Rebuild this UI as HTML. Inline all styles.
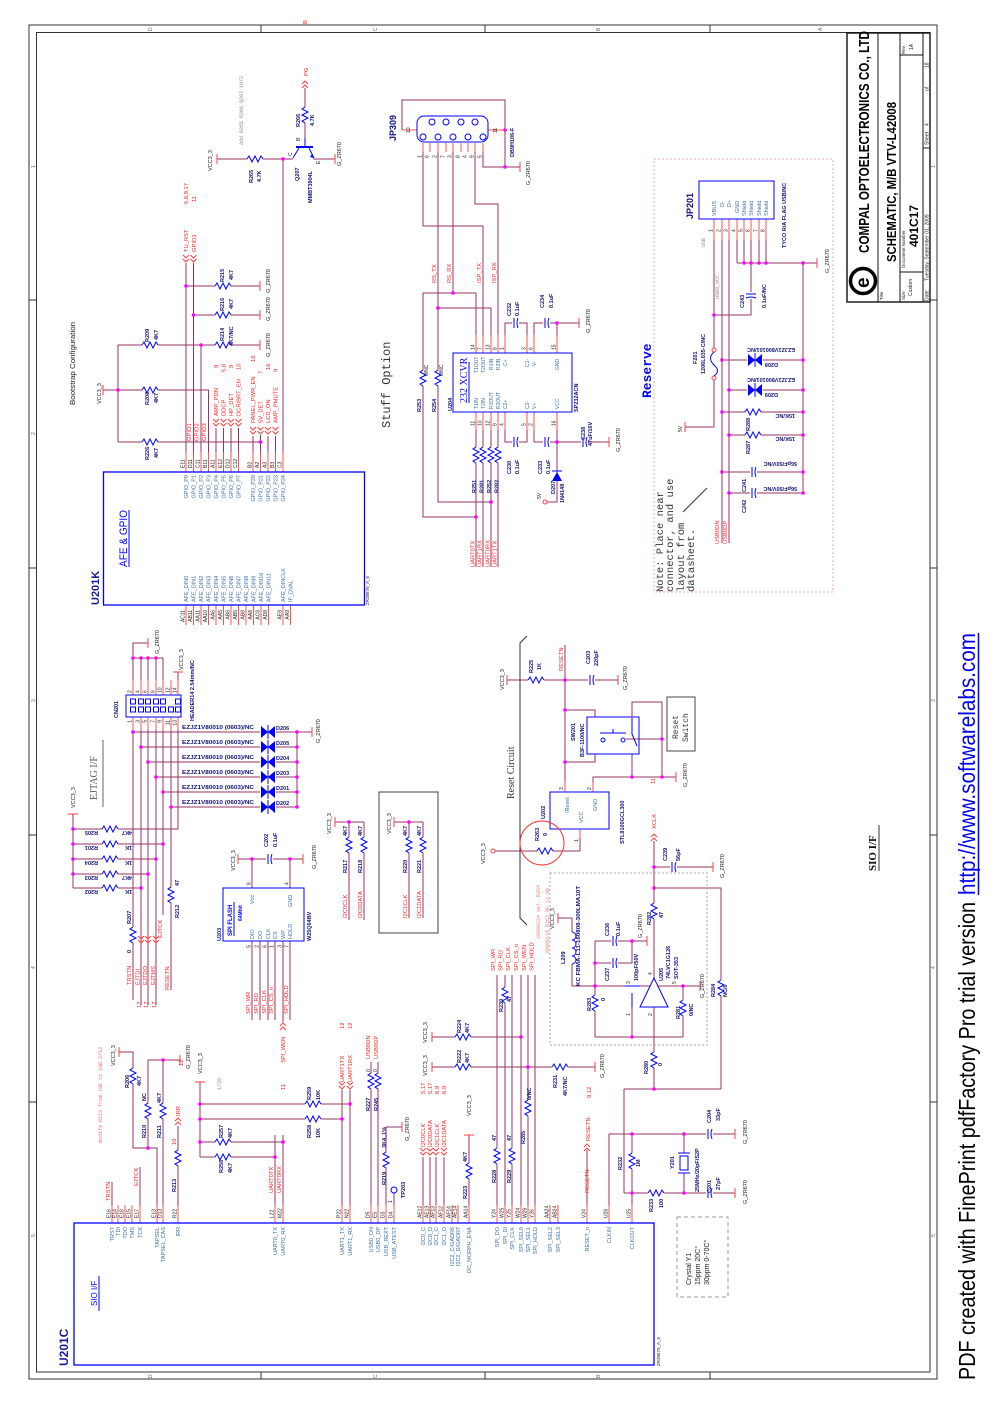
<!DOCTYPE html>
<html><head><meta charset="utf-8">
<style>
html,body{margin:0;padding:0;background:#fff;}
svg{display:block}
.w{stroke:#993366;fill:none;stroke-width:1}
.p{stroke:#ff5050;fill:none;stroke-width:1}
.c{stroke:#0000ff;fill:none;stroke-width:1}
.k{stroke:#333;fill:none;stroke-width:1}
text{font-family:"Liberation Sans",Arial,sans-serif;font-size:5.5px;fill:#222}
.t{font-size:5px;fill:#222}
.n{fill:#10107a;font-weight:bold;font-size:5.5px}
.r{fill:#ff2020;font-size:5.8px}
.i{fill:#3d6fa8;font-size:5.5px}
.i5{fill:#3d6fa8;font-size:5px}
.g{fill:#888;font-family:"Liberation Mono",monospace;font-size:5px}
.m{font-family:"Liberation Mono",monospace}
.note{font-family:"Liberation Mono",monospace;font-size:10.5px;fill:#333}
.e{text-anchor:end}
</style></head><body>
<svg width="992" height="1404" viewBox="0 0 992 1404" xmlns="http://www.w3.org/2000/svg">
<defs>
<g id="rh"><line x1="0" y1="0" x2="16" y2="0" stroke="#fff" stroke-width="3"/><path d="M0 0l2-3l3 6l3-6l3 6l3-6l2 3" stroke="#0000ff" fill="none"/></g>
<g id="rv"><line x1="0" y1="0" x2="0" y2="16" stroke="#fff" stroke-width="3"/><path d="M0 0l-3 2l6 3l-6 3l6 3l-6 3l3 2" stroke="#0000ff" fill="none"/></g>
<g id="ch"><line x1="-2" y1="0" x2="5" y2="0" stroke="#fff" stroke-width="3"/><line x1="0" y1="-5" x2="0" y2="5" stroke="#0000ff"/><path d="M4-5q-2 5 0 10" stroke="#0000ff" fill="none"/></g>
<g id="cv"><line x1="0" y1="-2" x2="0" y2="5" stroke="#fff" stroke-width="3"/><line x1="-5" y1="0" x2="5" y2="0" stroke="#0000ff"/><path d="M-5 4q5-2 10 0" stroke="#0000ff" fill="none"/></g>
<path id="tv" d="M0-5v10" stroke="#ff4040"/>
<path id="th" d="M-5 0h10" stroke="#ff4040"/>
<circle id="dt" r="1.8" fill="#ff00ff"/>
<path id="ad" d="M-3-4l3 3l3-3M-3 0l3 3l3-3" stroke="#ff4040" fill="none"/>
<path id="au" d="M-3 4l3-3l3 3M-3 8l3-3l3 3" stroke="#ff4040" fill="none"/>
<g id="zd"><line x1="-8" y1="0" x2="8" y2="0" stroke="#fff" stroke-width="3"/><path d="M-7-6v12l7-6zM7-6v12l-7-6z" fill="#0000ff"/><path d="M0-7v14" stroke="#0000ff"/></g>
</defs>

<!-- frame -->
<rect x="29" y="25" width="908" height="1354" class="k" stroke-width="1.3"/>
<rect x="36.5" y="32.5" width="893.5" height="1339.5" class="k"/>
<path class="k" d="M261 25V32.5M485 25V32.5M710 25V32.5M261 1372V1379M485 1372V1379M710 1372V1379M29 300H36.5M29 568H36.5M29 835H36.5M29 1102H36.5M930 300H937M930 568H937M930 835H937M930 1102H937"/>

<!-- title block -->
<rect x="847" y="33" width="83" height="269" fill="none" stroke="#111" stroke-width="1.4"/>
<path d="M878 33V302M900 33V302M923 33V302M900 55H923M900 272H923M923 148H930" stroke="#111" stroke-width="1"/>
<circle cx="863" cy="281" r="12.5" fill="none" stroke="#000" stroke-width="3.5"/>

<!-- watermark underline & SIO underline -->
<line x1="978.5" y1="633" x2="978.5" y2="895" stroke="#0000ee" stroke-width="1.5"/>
<line x1="879" y1="825" x2="879" y2="871" stroke="#333" stroke-width="1"/>

<!-- ============ WIRES ============ -->
<path class="w" d="M305 88V146M217 159H293M313 159H335M283 159V452
M186 263V452M193.5 263V452M201 345V452M208.5 390V452M186 286H260M193.5 315H260M118 345H260M103 390H208.5M118 442H260.5M118 345V442M260.5 435V452
M216 428V452M223.5 428V452M231 428V452M238.5 428V452M253 436V452M268 436V452M275.5 436V452
M402 130V100H505V167M483 150V167H520M423 150V226H483V335M438 150V502H491M438 308H491V335M453 150V293M423 293H476V335M423 293V517H476M475 150V204H498V335
M505 335V323H527V335M534 335V323H579M557 323V335M505 430V442H527V430M534 430V442H609M557 430V502H547M476 430V567M483 430V567M491 430V567M498 430V567
M737 240V263M744 240V263M751 240V263M759 240V263M766 240V263M737 263H817M803 263V493M751 263V315H714M714 240V348M714 380V427H685M722 240V543M729 240V543
M722 360H803M729 390H803M722 412H803M729 435H803M722 472H803M729 493H803
M133 680V643H148M133 658H163M141 658V680M148 658V680M156 658V680M163 658V680M178 672V680
M133 730V1000M141 730V1005M148 730V1005M156 730V1005M163 730V915M171 730V990M178 730V829H73
M133 732H297M141 747H297M148 762H297M156 777H297M163 792H297M171 807H297M297 732V807M297 732H312
M73 814V888M73 844H163M73 859H156M73 874H148M73 888H141
M238 859H303M252 859V888M290 859V888
M335 822H364M349 822V920M364 822V920M394 822H423M409 822V918M423 822V918
M507 680H618M565 645V782M565 710H595V717M565 762H595V754M632 717V702H662V777M593 782V777H676M632 754V777M626 739H662
M580 838V851H495M654 841V978M654 1007V1089M654 867H713M654 888H721V1089
M558 918H572V986H595M595 941V1037M595 941H647M595 963H632V941M595 986H700M632 1007V1037M595 1037H683M683 986V1037
M497 975V1205M505 975V1205M512 975V1205M521 975V1205M528 975V1205M535 975V1205
M432 1037H521M432 1067H595M469 1135V1205M423 1157V1205M430 1157V1205M436 1157V1205M444 1157V1205
M371 1062V1205M378 1062V1205M386 1127V1205M386 1127H402M394 1193V1205
M342 1090V1205M350 1090V1205M200 1082V1157M200 1104H350M200 1119H342M200 1142H283M200 1157H275M275 1135V1205M283 1135V1205
M119 1052H133V1148H157V1205M148 1060V1148M163 1060V1205M148 1060H180M178 1126V1205M112 1182V1205M140 1167V1205
M587 1150V1205M624 1089H721M624 1089V1193M609 1134H735M609 1134V1205M624 1193H735M632 1193V1205M632 1134V1193M684 1134V1153M684 1173V1193
M252 941V1020M260 941V1020M268 941V1020M275 941V1020M283 941V1022M290 941V1020"/>

<!-- transistor -->
<path d="M296 147H313" stroke="#0000ff" stroke-width="2"/>
<path class="c" d="M299 148L293 158M309 148L314 158M305 146V138"/>
<path d="M314 158l-4-1l2-3z" fill="#0000ff"/>

<!-- pin stubs -->
<path class="p" d="M186 452V472M193.5 452V472M201 452V472M208.5 452V472M216 452V472M223.5 452V472M231 452V472M238.5 452V472M253 452V472M260.5 452V472M268 452V472M275.5 452V472M283 452V472
M186 605V625M193.5 605V625M201 605V625M208.5 605V625M216 605V625M223.5 605V625M231 605V625M238.5 605V625M246 605V625M253.5 605V625M261 605V625M268.5 605V625M283 605V625M290.5 605V625
M423 143V152M430 143V152M438 143V152M446 143V152M453 143V152M461 143V152M468 143V152M475 143V152M483 143V152M402 130H417M488 130H505
M476 335V353M483 335V353M491 335V353M498 335V353M505 335V353M527 335V353M534 335V353M557 335V353M476 412V430M483 412V430M491 412V430M498 412V430M505 412V430M527 412V430M534 412V430M557 412V430
M714 219V240M722 219V240M729 219V240M737 219V240M744 219V240M751 219V240M759 219V240M766 219V240
M133 680V695M141 680V695M148 680V695M156 680V695M163 680V695M171 680V695M178 680V695M133 717V730M141 717V730M148 717V730M156 717V730M163 717V730M171 717V730M178 717V730
M565 782V792M593 782V792M580 829V838
M112 1205V1223M118 1205V1223M125 1205V1223M132 1205V1223M140 1205V1223M157 1205V1223M163 1205V1223M178 1205V1223M275 1205V1223M283 1205V1223M342 1205V1223M350 1205V1223M371 1205V1223M378 1205V1223M386 1205V1223M394 1205V1223M423 1205V1223M430 1205V1223M436 1205V1223M444 1205V1223M452 1205V1223M458 1205V1223M469 1205V1223M497 1205V1223M505 1205V1223M512 1205V1223M521 1205V1223M528 1205V1223M535 1205V1223M550 1205V1223M558 1205V1223M587 1205V1223M609 1205V1223M632 1205V1223"/>

<!-- T symbols -->
<g>
<use href="#tv" x="217" y="159"/><use href="#tv" x="335" y="159"/><use href="#tv" x="260" y="286"/><use href="#tv" x="260" y="315"/><use href="#tv" x="260" y="345"/><use href="#tv" x="103" y="390"/>
<use href="#tv" x="520" y="167"/><use href="#tv" x="579" y="323"/><use href="#tv" x="609" y="442"/>
<use href="#tv" x="817" y="263"/><use href="#tv" x="685" y="427"/>
<use href="#tv" x="148" y="643"/><use href="#th" x="178" y="672"/><use href="#tv" x="312" y="732"/><use href="#th" x="73" y="814"/>
<use href="#tv" x="238" y="859"/><use href="#tv" x="303" y="859"/><use href="#tv" x="335" y="822"/><use href="#tv" x="394" y="822"/>
<use href="#tv" x="507" y="680"/><use href="#tv" x="618" y="680"/><use href="#tv" x="676" y="777"/><use href="#tv" x="713" y="867"/>
<use href="#tv" x="558" y="918"/><use href="#tv" x="647" y="941"/><use href="#tv" x="700" y="986"/>
<use href="#tv" x="432" y="1037"/><use href="#tv" x="432" y="1067"/><use href="#tv" x="595" y="1067"/><use href="#th" x="469" y="1135"/>
<use href="#tv" x="402" y="1127"/><use href="#th" x="200" y="1082"/><use href="#tv" x="119" y="1052"/><use href="#tv" x="180" y="1060"/>
<use href="#tv" x="735" y="1134"/><use href="#tv" x="735" y="1193"/>
</g>

<!-- arrows -->
<g>
<use href="#au" x="305" y="80"/>
<use href="#ad" x="186" y="259"/><use href="#ad" x="193.5" y="259"/>
<use href="#ad" x="216" y="423"/><use href="#ad" x="223.5" y="423"/><use href="#ad" x="231" y="423"/><use href="#ad" x="238.5" y="423"/>
<use href="#ad" x="253" y="431"/><use href="#ad" x="260.5" y="431"/><use href="#ad" x="268" y="431"/><use href="#ad" x="275.5" y="431"/>
<use href="#ad" x="141" y="940"/><use href="#ad" x="148" y="940"/><use href="#ad" x="156" y="940"/>
<use href="#au" x="283" y="1022"/><use href="#au" x="654" y="833"/>
<use href="#ad" x="342" y="1086"/><use href="#ad" x="350" y="1086"/><use href="#au" x="178" y="1117"/>
<use href="#ad" x="423" y="1152"/><use href="#ad" x="430" y="1152"/><use href="#ad" x="436" y="1152"/><use href="#ad" x="444" y="1152"/>
<use href="#au" x="587" y="1143"/>
</g>

<!-- resistors -->
<g>
<use href="#rv" x="305" y="107"/><use href="#rh" x="247" y="159"/>
<use href="#rh" x="215" y="286"/><use href="#rh" x="215" y="315"/><use href="#rh" x="215" y="345"/><use href="#rh" x="142" y="345"/><use href="#rh" x="142" y="390"/><use href="#rh" x="142" y="442"/>
<use href="#rv" x="423" y="370"/><use href="#rv" x="438" y="370"/>
<use href="#rv" x="476" y="447"/><use href="#rv" x="483" y="447"/><use href="#rv" x="491" y="447"/><use href="#rv" x="498" y="447"/>
<use href="#rh" x="745" y="412"/><use href="#rh" x="745" y="435"/>
<use href="#rh" x="102" y="829"/><use href="#rh" x="102" y="844"/><use href="#rh" x="102" y="859"/><use href="#rh" x="102" y="874"/><use href="#rh" x="102" y="888"/>
<use href="#rv" x="133" y="927"/><use href="#rv" x="171" y="887"/>
<use href="#rv" x="349" y="837"/><use href="#rv" x="364" y="837"/><use href="#rv" x="409" y="837"/><use href="#rv" x="423" y="837"/>
<use href="#rh" x="528" y="680"/><use href="#rh" x="537" y="851"/>
<use href="#rv" x="654" y="903"/><use href="#rv" x="721" y="980"/><use href="#rv" x="595" y="995"/><use href="#rv" x="683" y="1000"/><use href="#rv" x="654" y="1052"/>
<use href="#rv" x="505" y="987"/><use href="#rv" x="497" y="1148"/><use href="#rv" x="512" y="1148"/><use href="#rv" x="528" y="1100"/>
<use href="#rh" x="455" y="1037"/><use href="#rh" x="455" y="1067"/><use href="#rh" x="552" y="1067"/><use href="#rv" x="469" y="1163"/>
<use href="#rv" x="371" y="1073"/><use href="#rv" x="378" y="1073"/><use href="#rv" x="386" y="1152"/>
<use href="#rh" x="305" y="1104"/><use href="#rh" x="305" y="1119"/><use href="#rh" x="215" y="1142"/><use href="#rh" x="215" y="1157"/>
<use href="#rv" x="133" y="1068"/><use href="#rv" x="148" y="1103"/><use href="#rv" x="163" y="1103"/><use href="#rv" x="178" y="1150"/>
<use href="#rv" x="632" y="1153"/><use href="#rh" x="648" y="1193"/>
</g>

<!-- capacitors -->
<g>
<use href="#ch" x="514" y="323"/><use href="#ch" x="545" y="323"/><use href="#ch" x="514" y="442"/><use href="#ch" x="545" y="442"/><use href="#ch" x="583" y="442"/>
<use href="#cv" x="751" y="294"/><use href="#ch" x="752" y="472"/><use href="#ch" x="752" y="493"/>
<use href="#ch" x="268" y="859"/><use href="#ch" x="590" y="680"/><use href="#ch" x="672" y="867"/>
<use href="#ch" x="613" y="941"/><use href="#ch" x="613" y="963"/>
<use href="#ch" x="708" y="1134"/><use href="#ch" x="708" y="1193"/>
</g>

<!-- zener diodes -->
<g>
<use href="#zd" x="755" y="360"/><use href="#zd" x="755" y="390"/>
<use href="#zd" x="268" y="732"/><use href="#zd" x="268" y="747"/><use href="#zd" x="268" y="762"/><use href="#zd" x="268" y="777"/><use href="#zd" x="268" y="792"/><use href="#zd" x="268" y="807"/>
</g>

<!-- boxes / components -->
<rect x="103.5" y="472" width="261" height="133" fill="none" stroke="#0000ff" stroke-width="1.3"/>
<rect x="74" y="1223" width="580" height="142" fill="none" stroke="#0000ff" stroke-width="1.3"/>
<line x1="129" y1="510" x2="129" y2="567" stroke="#0000ff"/>
<line x1="99" y1="1276" x2="99" y2="1311" stroke="#0000ff"/>
<rect x="417" y="116" width="71" height="26" rx="7" class="c"/>
<g class="c"><circle cx="432" cy="122" r="3"/><circle cx="446" cy="122" r="3"/><circle cx="461" cy="122" r="3"/><circle cx="475" cy="122" r="3"/><circle cx="423" cy="137" r="3"/><circle cx="438" cy="137" r="3"/><circle cx="453" cy="137" r="3"/><circle cx="468" cy="137" r="3"/><circle cx="483" cy="137" r="3"/></g>
<rect x="453" y="353" width="119" height="59" class="c" stroke-width="1.2"/>
<line x1="469" y1="362" x2="469" y2="403" stroke="#0000ff"/>
<path d="M552 481H562L557 472Z" fill="#0000ff"/><path class="c" d="M552 471H562"/>
<circle cx="545" cy="502" r="2" fill="none" stroke="#ff4040"/>
<rect x="654" y="159" width="179" height="433" fill="none" stroke="#f4a8a8" stroke-dasharray="2 2"/>
<rect x="699" y="181" width="75" height="38" class="c" stroke-width="1.2"/>
<circle cx="714" cy="350" r="2" fill="none" stroke="#ff4040"/><circle cx="714" cy="378" r="2" fill="none" stroke="#ff4040"/>
<path class="c" d="M714 352q-7 6 0 13q7 6 0 11"/>
<line x1="683" y1="512" x2="707" y2="488" stroke="#333"/>
<rect x="126" y="695" width="55" height="22" class="c" stroke-width="1.2"/>
<g class="c"><rect x="130.5" y="699" width="5" height="5"/><rect x="138.5" y="699" width="5" height="5"/><rect x="145.5" y="699" width="5" height="5"/><rect x="153.5" y="699" width="5" height="5"/><rect x="160.5" y="699" width="5" height="5"/><rect x="175.5" y="699" width="5" height="5"/>
<rect x="130.5" y="707" width="5" height="5"/><rect x="138.5" y="707" width="5" height="5"/><rect x="145.5" y="707" width="5" height="5"/><rect x="153.5" y="707" width="5" height="5"/><rect x="160.5" y="707" width="5" height="5"/><rect x="168.5" y="707" width="5" height="5"/><rect x="175.5" y="707" width="5" height="5"/></g>
<line x1="103" y1="740" x2="103" y2="807" stroke="#666"/>
<rect x="223" y="888" width="81" height="53" class="c" stroke-width="1.2"/>
<line x1="234" y1="902" x2="234" y2="936" stroke="#0000ff"/>
<rect x="379" y="792" width="59" height="141" fill="none" stroke="#444"/>
<path d="M527 636L520 643V918L527 925" fill="none" stroke="#333"/>
<rect x="587" y="717" width="52" height="37" class="c" stroke-width="1.2"/>
<g class="c"><circle cx="603" cy="740" r="2"/><circle cx="623" cy="740" r="2"/><path d="M600 733H626M613 729V733M632 718V734L637 746"/></g>
<rect x="667" y="697" width="28" height="54" fill="none" stroke="#444"/>
<rect x="550" y="792" width="59" height="37" class="c" stroke-width="1.2"/>
<circle cx="493" cy="851" r="2" fill="none" stroke="#ff4040"/>
<circle cx="542" cy="843" r="22" fill="none" stroke="#ff3030"/>
<rect x="550" y="873" width="157" height="172" fill="none" stroke="#aaa" stroke-dasharray="2 2"/>
<line x1="572" y1="932" x2="572" y2="964" stroke="#fff" stroke-width="3"/>
<path class="c" d="M572 932a4 4 0 0 1 0 8a4 4 0 0 1 0 8a4 4 0 0 1 0 8a4 4 0 0 1 0 8"/>
<path d="M654 978L640 1007H668Z" fill="#fff" stroke="#0000ff"/>
<path class="c" d="M625 986H640M632 993V1007"/>
<circle cx="394" cy="1190" r="3" class="c"/>
<path class="c" d="M678 1153H690M678 1173H690"/><rect x="680" y="1156" width="8" height="14" class="c"/>
<rect x="677" y="1217" width="51" height="80" fill="none" stroke="#999" stroke-dasharray="4 3"/>

<!-- dots -->
<g>
<use href="#dt" x="283" y="159"/><use href="#dt" x="186" y="286"/><use href="#dt" x="193.5" y="315"/><use href="#dt" x="201" y="345"/><use href="#dt" x="118" y="390"/><use href="#dt" x="260.5" y="442"/>
<use href="#dt" x="505" y="130"/><use href="#dt" x="505" y="167"/><use href="#dt" x="438" y="308"/><use href="#dt" x="453" y="293"/><use href="#dt" x="476" y="517"/><use href="#dt" x="491" y="502"/><use href="#dt" x="557" y="323"/><use href="#dt" x="557" y="442"/>
<use href="#dt" x="744" y="263"/><use href="#dt" x="751" y="263"/><use href="#dt" x="759" y="263"/><use href="#dt" x="766" y="263"/><use href="#dt" x="803" y="263"/><use href="#dt" x="714" y="315"/>
<use href="#dt" x="722" y="360"/><use href="#dt" x="803" y="360"/><use href="#dt" x="729" y="390"/><use href="#dt" x="803" y="390"/><use href="#dt" x="722" y="412"/><use href="#dt" x="803" y="412"/><use href="#dt" x="729" y="435"/><use href="#dt" x="803" y="435"/><use href="#dt" x="722" y="472"/><use href="#dt" x="803" y="472"/><use href="#dt" x="729" y="493"/><use href="#dt" x="803" y="493"/>
<use href="#dt" x="133" y="658"/><use href="#dt" x="141" y="658"/><use href="#dt" x="148" y="658"/><use href="#dt" x="156" y="658"/>
<use href="#dt" x="133" y="732"/><use href="#dt" x="297" y="732"/><use href="#dt" x="141" y="747"/><use href="#dt" x="297" y="747"/><use href="#dt" x="148" y="762"/><use href="#dt" x="297" y="762"/><use href="#dt" x="156" y="777"/><use href="#dt" x="297" y="777"/><use href="#dt" x="163" y="792"/><use href="#dt" x="297" y="792"/><use href="#dt" x="171" y="807"/><use href="#dt" x="297" y="807"/>
<use href="#dt" x="73" y="829"/><use href="#dt" x="73" y="844"/><use href="#dt" x="163" y="844"/><use href="#dt" x="73" y="859"/><use href="#dt" x="156" y="859"/><use href="#dt" x="73" y="874"/><use href="#dt" x="148" y="874"/><use href="#dt" x="141" y="888"/>
<use href="#dt" x="252" y="859"/><use href="#dt" x="290" y="859"/><use href="#dt" x="349" y="822"/><use href="#dt" x="409" y="822"/>
<use href="#dt" x="565" y="680"/><use href="#dt" x="565" y="710"/><use href="#dt" x="565" y="762"/><use href="#dt" x="662" y="739"/><use href="#dt" x="632" y="777"/><use href="#dt" x="662" y="777"/>
<use href="#dt" x="654" y="867"/><use href="#dt" x="654" y="888"/><use href="#dt" x="595" y="963"/><use href="#dt" x="595" y="986"/><use href="#dt" x="632" y="941"/><use href="#dt" x="683" y="986"/><use href="#dt" x="632" y="1037"/>
<use href="#dt" x="521" y="1037"/><use href="#dt" x="528" y="1067"/>
<use href="#dt" x="200" y="1104"/><use href="#dt" x="200" y="1119"/><use href="#dt" x="200" y="1142"/><use href="#dt" x="350" y="1104"/><use href="#dt" x="342" y="1119"/><use href="#dt" x="283" y="1142"/><use href="#dt" x="275" y="1157"/>
<use href="#dt" x="163" y="1060"/><use href="#dt" x="148" y="1148"/>
<use href="#dt" x="654" y="1089"/><use href="#dt" x="632" y="1134"/><use href="#dt" x="684" y="1134"/><use href="#dt" x="632" y="1193"/><use href="#dt" x="684" y="1193"/>
</g>

<!-- horizontal text -->
<g>
<text x="182" y="729" class="n" textLength="72" lengthAdjust="spacingAndGlyphs">EZJZ1V80010 (0603)/NC</text>
<text x="182" y="744" class="n" textLength="72" lengthAdjust="spacingAndGlyphs">EZJZ1V80010 (0603)/NC</text>
<text x="182" y="759" class="n" textLength="72" lengthAdjust="spacingAndGlyphs">EZJZ1V80010 (0603)/NC</text>
<text x="182" y="774" class="n" textLength="72" lengthAdjust="spacingAndGlyphs">EZJZ1V80010 (0603)/NC</text>
<text x="182" y="789" class="n" textLength="72" lengthAdjust="spacingAndGlyphs">EZJZ1V80010 (0603)/NC</text>
<text x="182" y="804" class="n" textLength="72" lengthAdjust="spacingAndGlyphs">EZJZ1V80010 (0603)/NC</text>
<text x="276" y="730" class="n">D206</text><text x="276" y="745" class="n">D205</text><text x="276" y="760" class="n">D204</text><text x="276" y="775" class="n">D203</text><text x="276" y="790" class="n">D201</text><text x="276" y="805" class="n">D202</text>
</g>
<g>
<text class="n" transform="translate(795 348) rotate(180)">EZJZ1V800101/NC</text>
<text class="n" transform="translate(795 378) rotate(180)">EZJZ1V800101/NC</text>
<text class="n" transform="translate(778 363) rotate(180)">D208</text>
<text class="n" transform="translate(778 393) rotate(180)">D209</text>
<text class="n" transform="translate(795 414) rotate(180)">15K/NC</text>
<text class="n" transform="translate(795 437) rotate(180)">15K/NC</text>
<text class="n" transform="translate(797 462) rotate(180)">56pF/50V/NC</text>
<text class="n" transform="translate(797 487) rotate(180)">56pF/50V/NC</text>
<text class="n" transform="translate(98 831) rotate(180)">R205</text><text class="n" transform="translate(132 831) rotate(180)">4K7</text>
<text class="n" transform="translate(98 846) rotate(180)">R201</text><text class="n" transform="translate(132 846) rotate(180)">1K</text>
<text class="n" transform="translate(98 861) rotate(180)">R204</text><text class="n" transform="translate(132 861) rotate(180)">1K</text>
<text class="n" transform="translate(98 876) rotate(180)">R203</text><text class="n" transform="translate(132 876) rotate(180)">4K7</text>
<text class="n" transform="translate(98 890) rotate(180)">R202</text><text class="n" transform="translate(132 890) rotate(180)">1K</text>
</g>

<!-- ============ ROTATED TEXT ============ -->
<g transform="rotate(-90)">
<!-- zone labels -->
<text x="-31" y="152" style="font-size:5px;fill:#666">D</text><text x="-31" y="377" style="font-size:5px;fill:#666">C</text><text x="-31" y="600" style="font-size:5px;fill:#666">B</text><text x="-31" y="822" style="font-size:5px;fill:#666">A</text>
<text x="-1378" y="152" style="font-size:5px;fill:#666">D</text><text x="-1378" y="377" style="font-size:5px;fill:#666">C</text><text x="-1378" y="600" style="font-size:5px;fill:#666">B</text>
<text x="-168" y="35" style="font-size:5px;fill:#666">1</text><text x="-435" y="35" style="font-size:5px;fill:#666">2</text><text x="-702" y="35" style="font-size:5px;fill:#666">3</text><text x="-969" y="35" style="font-size:5px;fill:#666">4</text><text x="-1237" y="35" style="font-size:5px;fill:#666">5</text>
<text x="-168" y="935" style="font-size:5px;fill:#666">1</text><text x="-702" y="935" style="font-size:5px;fill:#666">3</text><text x="-969" y="935" style="font-size:5px;fill:#666">4</text><text x="-1237" y="935" style="font-size:5px;fill:#666">5</text>
<text x="-24" y="307" class="r">B</text>

<!-- title block -->
<text x="-253" y="869" style="font-size:14.5px;font-weight:bold;fill:#000" textLength="222" lengthAdjust="spacingAndGlyphs">COMPAL OPTOELECTRONICS CO., LTD</text>
<text x="-288" y="869" style="font-size:19px;font-weight:bold;fill:#000">e</text>
<text x="-262" y="896" style="font-size:12.5px;font-weight:bold;fill:#000" textLength="160" lengthAdjust="spacingAndGlyphs">SCHEMATIC, M/B VTV-L42008</text>
<text x="-300" y="883" style="font-size:4.5px">Title</text>
<text x="-300" y="905" style="font-size:4.5px">Size</text>
<text x="-296" y="912" style="font-size:5px">Custom</text>
<text x="-268" y="905" style="font-size:4.5px">Document Number</text>
<text x="-247" y="918" style="font-size:12px;font-weight:bold;fill:#000">401C17</text>
<text x="-54" y="905" style="font-size:4.5px">Rev</text>
<text x="-50" y="913" style="font-size:5px">1A</text>
<text x="-301" y="928.5" style="font-size:5px">Date:</text>
<text x="-281" y="928.5" style="font-size:5px">Tuesday, September 01, 2009</text>
<text x="-145" y="928.5" style="font-size:5px">Sheet</text>
<text x="-126" y="928.5" style="font-size:5px">4</text>
<text x="-91" y="928.5" style="font-size:5px">of</text>
<text x="-68" y="928.5" style="font-size:5px">18</text>

<!-- watermark -->
<text x="-1380" y="975" style="font-size:23px;fill:#000" textLength="478" lengthAdjust="spacingAndGlyphs">PDF created with FinePrint pdfFactory Pro trial version</text>
<text x="-895" y="975" style="font-size:23px;fill:#0000ee" textLength="262" lengthAdjust="spacingAndGlyphs">http://www.softwarelabs.com</text>
<text x="-871" y="876" style="font-family:'Liberation Serif',serif;font-size:11px;font-weight:bold;fill:#111">SIO I/F</text>

<!-- Q207 area -->
<text x="-145" y="243" class="g">Add R265 R266 Q207 10/2</text>
<text x="-76" y="308" class="r">PG</text>
<text x="-127" y="300" class="n">R266</text><text x="-126" y="314" class="n">4.7K</text>
<text x="-141" y="300" class="t">B</text><text x="-156" y="292" class="t">C</text><text x="-164" y="320" class="t">E</text>
<text x="-171" y="212">VCC3_3</text>
<text x="-183" y="253" class="n">R265</text><text x="-182" y="261" class="n">4.7K</text>
<text x="-166" y="341">G_ZR670</text>
<text x="-181" y="299" class="n">Q207</text><text x="-203" y="312" class="n">MMBT3904L</text>

<!-- bootstrap -->
<text x="-204" y="188" class="r">5,6,9,17</text><text x="-202" y="196" class="r">11</text>
<text x="-252" y="188" class="r">TU_RST</text><text x="-252" y="196" class="r">GPIO1</text>
<text x="-282" y="224" class="n">R215</text><text x="-280" y="233" class="n">4K7</text>
<text x="-311" y="224" class="n">R216</text><text x="-309" y="233" class="n">4K7</text>
<text x="-341" y="224" class="n">R214</text><text x="-346" y="233" class="n">4K7/NC</text>
<text x="-342" y="149" class="n">R209</text><text x="-340" y="158" class="n">4K7</text>
<text x="-405" y="149" class="n">R208</text><text x="-403" y="158" class="n">4K7</text>
<text x="-460" y="149" class="n">R226</text><text x="-458" y="158" class="n">4K7</text>
<text x="-293" y="270">G_ZR670</text><text x="-321" y="270">G_ZR670</text><text x="-357" y="270">G_ZR670</text>
<text x="-404" y="101">VCC3_3</text>
<text x="-405" y="75" style="font-size:7px;fill:#222" textLength="83" lengthAdjust="spacingAndGlyphs">Bootstrap Configuration</text>
<text x="-441" y="191" class="r">GPIO1</text><text x="-441" y="198.5" class="r">GPIO2</text><text x="-441" y="206" class="r">GPIO3</text>
<text x="-416" y="218" class="r">AMP_PDN</text><text x="-416" y="225.5" class="r">DDCP</text><text x="-416" y="233" class="r">HP_DET</text><text x="-416" y="240.5" class="r">DCR/BRT_EN</text>
<text x="-368" y="218" class="r">9</text><text x="-372" y="225.5" class="r">5,8</text><text x="-368" y="233" class="r">9</text><text x="-370" y="240.5" class="r">10</text>
<text x="-423" y="255" class="r">PANEL_PWR_EN</text><text x="-423" y="262.5" class="r">5V_DET</text><text x="-423" y="270" class="r">LCD_ON</text><text x="-423" y="277.5" class="r">AMP_PMUTE</text>
<text x="-362" y="255" class="r">16</text><text x="-374" y="262.5" class="r">7</text><text x="-370" y="270" class="r">16</text><text x="-372" y="277.5" class="r">9</text>

<!-- U201K pins -->
<g>
<text class="t" x="-468" y="184.5">E11</text><text class="t" x="-468" y="192">D11</text><text class="t" x="-468" y="199.5">C11</text><text class="t" x="-468" y="207">B11</text><text class="t" x="-468" y="214.5">A11</text><text class="t" x="-468" y="222">E12</text><text class="t" x="-468" y="229.5">D12</text><text class="t" x="-468" y="237">C12</text><text class="t" x="-468" y="251.5">B2</text><text class="t" x="-468" y="259">A2</text><text class="t" x="-468" y="266.5">A3</text><text class="t" x="-468" y="274">B3</text><text class="t" x="-468" y="281.5">C3</text>
</g>
<g class="e">
<text class="i" x="-475" y="188">GPIO_P0</text><text class="i" x="-475" y="195.5">GPIO_P1</text><text class="i" x="-475" y="203">GPIO_P2</text><text class="i" x="-475" y="210.5">GPIO_P3</text><text class="i" x="-475" y="218">GPIO_P4</text><text class="i" x="-475" y="225.5">GPIO_P5</text><text class="i" x="-475" y="233">GPIO_P6</text><text class="i" x="-475" y="240.5">GPIO_P7</text><text class="i" x="-475" y="255">GPIO_P20</text><text class="i" x="-475" y="262.5">GPIO_P21</text><text class="i" x="-475" y="270">GPIO_P22</text><text class="i" x="-475" y="277.5">GPIO_P23</text><text class="i" x="-475" y="285">GPIO_P24</text>
</g>
<g>
<text class="i" x="-602" y="188">AFE_DIN0</text><text class="i" x="-602" y="195.5">AFE_DIN1</text><text class="i" x="-602" y="203">AFE_DIN2</text><text class="i" x="-602" y="210.5">AFE_DIN3</text><text class="i" x="-602" y="218">AFE_DIN4</text><text class="i" x="-602" y="225.5">AFE_DIN5</text><text class="i" x="-602" y="233">AFE_DIN6</text><text class="i" x="-602" y="240.5">AFE_DIN7</text><text class="i" x="-602" y="248">AFE_DIN8</text><text class="i" x="-602" y="255.5">AFE_DIN9</text><text class="i" x="-602" y="263">AFE_DIN10</text><text class="i" x="-602" y="270.5">AFE_DIN11</text><text class="i" x="-602" y="285">AFE_DINCLK</text><text class="i" x="-602" y="292.5">IF_DVAL</text>
</g>
<g class="e">
<text class="t" x="-610" y="184.5">AC11</text><text class="t" x="-610" y="192">AB11</text><text class="t" x="-610" y="199.5">AA11</text><text class="t" x="-610" y="207">AA10</text><text class="t" x="-610" y="214.5">AA6</text><text class="t" x="-610" y="222">AA5</text><text class="t" x="-610" y="229.5">AB6</text><text class="t" x="-610" y="237">AB5</text><text class="t" x="-610" y="244.5">AB8</text><text class="t" x="-610" y="252">AA8</text><text class="t" x="-610" y="259.5">AC8</text><text class="t" x="-610" y="267">AD8</text><text class="t" x="-610" y="281.5">AE8</text><text class="t" x="-610" y="289">AA9</text>
</g>
<text x="-605" y="99" style="font-size:11px;font-weight:bold;fill:#1a1a9a">U201K</text>
<text x="-567" y="127" style="font-size:11px;fill:#0000ff" textLength="57" lengthAdjust="spacingAndGlyphs">AFE &amp; GPIO</text>
<text x="-605" y="369" style="font-size:4.5px">ZR38670_A_6</text>

<!-- Stuff option -->
<text x="-428" y="390" class="m" style="font-size:12px;fill:#333">Stuff Option</text>
<text x="-141" y="396" style="font-size:9px;font-weight:bold;fill:#10107a">JP309</text>
<text x="-157" y="514" class="n">DB9H106-F</text>
<g><text class="t" x="-158" y="421.5">1</text><text class="t" x="-158" y="428.5">6</text><text class="t" x="-158" y="436.5">2</text><text class="t" x="-158" y="444.5">7</text><text class="t" x="-158" y="451.5">3</text><text class="t" x="-158" y="459.5">8</text><text class="t" x="-158" y="466.5">4</text><text class="t" x="-158" y="473.5">9</text><text class="t" x="-158" y="481.5">5</text><text class="t" x="-133" y="410">10</text><text class="t" x="-133" y="497">11</text></g>
<text x="-185" y="530">G_ZR670</text>
<text x="-283" y="436" class="r">RS_TX</text><text x="-283" y="451" class="r">RS_RX</text><text x="-283" y="481" class="r">ISP_TX</text><text x="-283" y="496" class="r">ISP_RX</text>
<text x="-376" y="428" class="t">0/NC</text><text x="-376" y="443" class="t">0/NC</text>
<text x="-412" y="421" class="n">R253</text><text x="-412" y="436" class="n">R254</text>
<text x="-411" y="452" class="n">U204</text>
<text x="-403" y="467" style="font-family:'Liberation Serif',serif;font-size:10px;fill:#0000ff">232 XCVR</text>
<g>
<text class="i5" x="-373" y="478">T1OUT</text><text class="i5" x="-373" y="485">T2OUT</text><text class="i5" x="-370" y="493">R1IN</text><text class="i5" x="-370" y="500">R2IN</text><text class="i5" x="-366" y="507">C+</text><text class="i5" x="-367" y="529">C1-</text><text class="i5" x="-366" y="536">V-</text><text class="i5" x="-370" y="559">GND</text>
<text class="i5" x="-409" y="478">T1IN</text><text class="i5" x="-409" y="485">T2IN</text><text class="i5" x="-409" y="493">R1OUT</text><text class="i5" x="-409" y="500">R2OUT</text><text class="i5" x="-409" y="507">C2+</text><text class="i5" x="-409" y="529">C2-</text><text class="i5" x="-409" y="536">V+</text><text class="i5" x="-409" y="559">VCC</text>
</g>
<g>
<text class="t" x="-350" y="474.5">14</text><text class="t" x="-350" y="481.5">7</text><text class="t" x="-350" y="489.5">13</text><text class="t" x="-350" y="496.5">8</text><text class="t" x="-350" y="503.5">1</text><text class="t" x="-350" y="525.5">3</text><text class="t" x="-350" y="532.5">6</text><text class="t" x="-350" y="555.5">15</text>
<text class="t" x="-426" y="474.5">11</text><text class="t" x="-426" y="481.5">10</text><text class="t" x="-426" y="489.5">12</text><text class="t" x="-426" y="496.5">9</text><text class="t" x="-426" y="503.5">4</text><text class="t" x="-426" y="525.5">5</text><text class="t" x="-426" y="532.5">2</text><text class="t" x="-426" y="555.5">16</text>
</g>
<text x="-316" y="511" class="n">C232</text><text x="-316" y="519" class="n">0.1uF</text>
<text x="-308" y="544" class="n">C234</text><text x="-308" y="553" class="n">0.1uF</text>
<text x="-333" y="590">G_ZR670</text>
<text x="-474" y="511" class="n">C230</text><text x="-474" y="519" class="n">0.1uF</text>
<text x="-474" y="542" class="n">C233</text><text x="-474" y="550" class="n">0.1uF</text>
<text x="-440" y="585" class="n">C238</text><text x="-446" y="592" class="n">47uF/16V</text>
<text x="-452" y="620">G_ZR670</text>
<text x="-499" y="541" class="t">5V</text>
<text x="-494" y="555" class="n">D207</text><text x="-503" y="564" class="n">1N4148</text>
<text x="-493" y="476" class="n">R251</text><text x="-493" y="483.5" class="n">R281</text><text x="-493" y="491" class="n">R252</text><text x="-493" y="498.5" class="n">R282</text>
<text x="-567" y="474.5" class="r">UART0TX</text><text x="-567" y="481.5" class="r">UART1RX</text><text x="-567" y="489.5" class="r">UART0RX</text><text x="-567" y="496.5" class="r">UART1TX</text>
<text x="-412" y="578" class="n">SP232ACN</text>

<!-- Reserve -->
<text x="-398" y="651" class="m" style="font-size:13px;font-weight:bold;fill:#0000ff">Reserve</text>
<text x="-219" y="693" style="font-size:9px;font-weight:bold;fill:#10107a">JP201</text>
<g><text class="i" x="-216" y="716">VBUS</text><text class="i" x="-207" y="724">D-</text><text class="i" x="-207" y="731">D+</text><text class="i" x="-213" y="739">GND</text><text class="i" x="-216" y="746">Shield</text><text class="i" x="-216" y="753">Shield</text><text class="i" x="-216" y="761">Shield</text><text class="i" x="-216" y="768">Shield</text></g>
<g><text class="t" x="-232" y="712.5">1</text><text class="t" x="-232" y="720.5">2</text><text class="t" x="-232" y="727.5">3</text><text class="t" x="-232" y="735.5">4</text><text class="t" x="-232" y="742.5">5</text><text class="t" x="-232" y="749.5">6</text><text class="t" x="-232" y="757.5">7</text><text class="t" x="-232" y="764.5">8</text></g>
<text x="-248" y="786" class="n">TYCO R/A FLAG USB/NC</text>
<text x="-273" y="829">G_ZR670</text>
<text x="-247" y="705" class="g">USB</text><text x="-299" y="719" class="g">USB0_VCC</text>
<text x="-308" y="744" class="n">C243</text><text x="-308" y="766" class="n">0.1uF/NC</text>
<text x="-364" y="697" class="n">F201</text><text x="-374" y="705" class="n">1206L035-C/NC</text>
<text x="-432" y="682" class="t">5V</text>
<text x="-431" y="750" class="n">R288</text><text x="-454" y="750" class="n">R287</text>
<text x="-492" y="746" class="n">C241</text><text x="-513" y="746" class="n">C242</text>
<text x="-544" y="719" class="r">USB0DN</text><text x="-544" y="727" class="r">USB0DP</text>
<text class="note" x="-592" y="663">Note: Place near</text>
<text class="note" x="-592" y="673">connector, and use</text>
<text class="note" x="-592" y="684">layout from</text>
<text class="note" x="-592" y="694">datasheet.</text>

<!-- CN201 / EJTAG -->
<text x="-718" y="118" class="n">CN201</text>
<text x="-721" y="194" class="n">HEADER14 2.54mm/NC</text>
<g><text class="t" x="-693" y="131.5">2</text><text class="t" x="-693" y="139.5">4</text><text class="t" x="-693" y="146.5">6</text><text class="t" x="-693" y="154.5">8</text><text class="t" x="-693" y="161.5">10</text><text class="t" x="-693" y="169.5">12</text><text class="t" x="-693" y="176.5">14</text></g>
<g class="e"><text class="t" x="-720" y="131.5">1</text><text class="t" x="-720" y="139.5">3</text><text class="t" x="-720" y="146.5">5</text><text class="t" x="-720" y="154.5">7</text><text class="t" x="-720" y="161.5">9</text><text class="t" x="-720" y="169.5">11</text><text class="t" x="-720" y="176.5">13</text></g>
<text x="-654" y="159">G_ZR670</text>
<text x="-670" y="183">VCC3_3</text>
<text x="-743" y="320">G_ZR670</text>
<text x="-800" y="97" style="font-family:'Liberation Serif',serif;font-size:10px;fill:#555">EJTAG  I/F</text>
<text x="-808" y="75">VCC3_3</text>
<text x="-924" y="131" class="n">R207</text><text x="-953" y="131" class="n">0</text>
<text x="-938" y="162" class="r">EJTCK</text>
<text x="-886" y="179" class="n">47</text><text x="-918" y="179" class="n">R212</text>
<text x="-985" y="131" class="r">TRSTN</text><text x="-985" y="139.5" class="r">EJTDI</text><text x="-985" y="147" class="r">EJTDO</text><text x="-985" y="155" class="r">EJTMS</text><text x="-990" y="169" class="r">RESETN</text>
<text x="-1008" y="141" class="r">17</text><text x="-1008" y="148" class="r">17</text><text x="-1008" y="156" class="r">17</text>

<!-- U203 -->
<text x="-941" y="221" class="n">U203</text>
<text x="-936" y="232" style="font-size:6px;font-weight:bold;fill:#0000ff">SPI FLASH</text>
<text x="-921" y="242" style="font-size:5px;font-weight:bold;fill:#0000ff">64Mbit</text>
<g><text class="i" x="-939" y="254">DIO</text><text class="i" x="-939" y="262">DO</text><text class="i" x="-939" y="270">CLK</text><text class="i" x="-939" y="277">CS</text><text class="i" x="-939" y="285">WP</text><text class="i" x="-939" y="292">HOLD</text><text class="i" x="-904" y="254">Vcc</text><text class="i" x="-907" y="292">GND</text></g>
<g><text class="t" x="-885" y="250.5">8</text><text class="t" x="-885" y="288.5">4</text></g>
<g class="e"><text class="t" x="-945" y="250.5">5</text><text class="t" x="-945" y="258.5">2</text><text class="t" x="-945" y="266.5">6</text><text class="t" x="-945" y="273.5">1</text><text class="t" x="-945" y="281.5">3</text><text class="t" x="-945" y="288.5">7</text></g>
<text x="-941" y="311" class="n">W25Q64BV</text>
<text x="-871" y="235">VCC3_3</text>
<text x="-847" y="268" class="n">C202</text><text x="-847" y="277" class="n">0.1uF</text>
<text x="-869" y="316">G_ZR670</text>
<text x="-1014" y="250" class="r">SPI_WR</text><text x="-1014" y="258" class="r">SPI_RD</text><text x="-1014" y="266" class="r">SPI_CLK</text><text x="-1014" y="273" class="r">SPI_CS_n</text><text x="-1014" y="288" class="r">SPI_HOLD</text>
<text x="-1063" y="285" class="r">SPI_WEN</text>

<!-- I2C pullups -->
<text x="-834" y="331">VCC3_3</text>
<text x="-836" y="347" class="n">4K7</text><text x="-873" y="347" class="n">R217</text><text x="-836" y="362" class="n">4K7</text><text x="-873" y="362" class="n">R218</text>
<text x="-918" y="347" class="r">I2C0CLK</text><text x="-918" y="362" class="r">I2C0DATA</text>
<text x="-834" y="391">VCC3_3</text>
<text x="-836" y="407" class="n">4K7</text><text x="-873" y="407" class="n">R220</text><text x="-836" y="421" class="n">4K7</text><text x="-873" y="421" class="n">R221</text>
<text x="-918" y="407" class="r">I2C1CLK</text><text x="-918" y="421" class="r">I2C1DATA</text>

<!-- reset circuit -->
<text x="-799" y="514" style="font-family:'Liberation Serif',serif;font-size:10px;fill:#333">Reset Circuit</text>
<text x="-690" y="504">VCC3_3</text>
<text x="-673" y="533" class="n">R225</text><text x="-670" y="541" class="n">1K</text>
<text x="-671" y="563" class="r">RESETN</text>
<text x="-664" y="590" class="n">C203</text><text x="-666" y="598" class="n">220pF</text>
<text x="-690" y="627">G_ZR670</text>
<text x="-741" y="575" class="n">SW201</text><text x="-757" y="584" class="n">B3F-1100/NC</text>
<text x="-787" y="687">G_ZR670</text>
<text x="-784" y="655" class="r">11</text>
<text x="-739" y="678" class="m" style="font-size:8px;fill:#333">Reset</text>
<text x="-742" y="688" class="m" style="font-size:8px;fill:#333">Switch</text>
<text x="-813" y="569" class="i">/Reset</text><text x="-823" y="583" class="i">VCC</text><text x="-811" y="597" class="i">GND</text>
<text x="-790" y="563" class="t">3</text><text x="-790" y="591" class="t">2</text><text x="-842" y="578" class="t">1</text>
<text x="-819" y="545" class="n">U202</text>
<text x="-844" y="624" class="n">STL8100GCL300</text>
<text x="-864" y="485">VCC3_3</text>
<text x="-841" y="539" class="n">R263</text><text x="-836" y="547" class="n">0</text>
<text x="-829" y="656" class="r">XCLK</text>
<text x="-861" y="667" class="n">C239</text><text x="-861" y="680" class="n">56pF</text>
<text x="-878" y="724">G_ZR670</text>
<text x="-939" y="540" class="m" style="font-size:5px;fill:#f08080">20090224 del. R264</text>
<text x="-954" y="549" class="m" style="font-size:5px;fill:#f08080">20090119 R263 NC to 0Ω.</text>
<text x="-929" y="554">VCC3_3</text>
<text x="-964" y="565" class="n">L209</text>
<text x="-986" y="580" class="n" textLength="100" lengthAdjust="spacingAndGlyphs">KC FBMA-L11-160808-300LMA10T</text>
<text x="-936" y="609" class="n">C236</text><text x="-936" y="620" class="n">0.1uF</text>
<text x="-938" y="642">G_ZR670</text>
<text x="-981" y="609" class="n">C237</text><text x="-981" y="638" class="n">100pF/50V</text>
<text x="-981" y="663" class="n">U205</text><text x="-979" y="670" class="n">74LVC1G126</text><text x="-979" y="678" class="n">SOT-353</text>
<text x="-925" y="651" class="n">R282</text><text x="-918" y="663" class="n">47</text>
<text x="-997" y="715" class="n">R284</text><text x="-997" y="727" class="n">NC/0</text>
<text x="-1011" y="591" class="n">R283</text><text x="-1001" y="605" class="n">0</text>
<text x="-1019" y="680" class="n">R281</text><text x="-1016" y="693" class="n">0/NC</text>
<text x="-998" y="704">G_ZR670</text>
<g><text class="t" x="-975" y="652">4</text><text class="t" x="-1016" y="630">1</text><text class="t" x="-1016" y="652">2</text><text class="t" x="-984" y="630">3</text><text class="t" x="-984" y="676">5</text></g>
<text x="-971" y="495" class="r">SPI_WR</text><text x="-971" y="502.5" class="r">SPI_RD</text><text x="-971" y="510" class="r">SPI_CLK</text><text x="-971" y="518" class="r">SPI_CS_n</text><text x="-971" y="526" class="r">SPI_WEN</text><text x="-971" y="533.5" class="r">SPI_HOLD</text>
<text x="-1012" y="503" class="n">R230</text><text x="-1002" y="511" class="n">47</text>

<!-- bottom area -->
<text x="-1043" y="427">VCC3_3</text>
<text x="-1033" y="461" class="n">R224</text><text x="-1033" y="469" class="n">4K7</text>
<text x="-1076" y="427">VCC3_3</text>
<text x="-1063" y="461" class="n">R222</text><text x="-1063" y="469" class="n">4K7</text>
<text x="-1088" y="557" class="n">R231</text><text x="-1096" y="567" class="n">4K7/NC</text>
<text x="-1078" y="604">G_ZR670</text>
<text x="-1144" y="525" class="n">R285</text><text x="-1100" y="531" class="n">0/NC</text>
<text x="-1141" y="496" class="n">47</text><text x="-1183" y="496" class="n">R228</text><text x="-1141" y="511" class="n">47</text><text x="-1183" y="511" class="n">R229</text>
<text x="-1094" y="425" class="r">5,17</text><text x="-1094" y="432" class="r">5,17</text><text x="-1094" y="439" class="r">6,9</text><text x="-1094" y="446" class="r">6,9</text>
<text x="-1147" y="425" class="r">I2C0CLK</text><text x="-1147" y="432" class="r">I2C0DATA</text><text x="-1147" y="439" class="r">I2C1CLK</text><text x="-1147" y="446" class="r">I2C1DATA</text>
<text x="-1116" y="471">VCC3_3</text>
<text x="-1162" y="467" class="n">4K7</text><text x="-1199" y="467" class="n">R223</text>
<text x="-1098" y="591" class="r">9,12</text>
<text x="-1141" y="590" class="r">RESETN</text><text x="-1193" y="589" class="r">RESETN</text>
<text x="-1029" y="344" class="r">12</text><text x="-1029" y="352" class="r">12</text>
<text x="-1082" y="344" class="r">UART1TX</text><text x="-1082" y="352" class="r">UART1RX</text>
<text x="-1059" y="370" class="r">USB0DN</text><text x="-1059" y="378" class="r">USB0DP</text>
<text x="-1072" y="370" class="t">0</text><text x="-1072" y="377" class="t">0</text>
<text x="-1111" y="370" class="n">R227</text><text x="-1111" y="378" class="n">R245</text>
<text x="-1148" y="386" class="n">3K4_1%</text><text x="-1185" y="386" class="n">R219</text>
<text x="-1141" y="409">G_ZR670</text>
<text x="-1198" y="405" class="n">TP203</text><text x="-1203" y="392" class="t">1</text>
<text x="-1100" y="311" class="n">R259</text><text x="-1100" y="320" class="n">10K</text>
<text x="-1138" y="311" class="n">R258</text><text x="-1138" y="320" class="n">10K</text>
<text x="-1138" y="223" class="n">R257</text><text x="-1138" y="232" class="n">4K7</text>
<text x="-1173" y="223" class="n">R256</text><text x="-1173" y="232" class="n">4K7</text>
<text x="-1074" y="202">VCC3_3</text>
<text x="-1090" y="221" class="g">1/29</text>
<text x="-1090" y="285" class="r">11</text>
<text x="-1193" y="273" class="r">UART0TX</text><text x="-1193" y="281" class="r">UART0RX</text>
<text x="-1143" y="102" class="m" style="font-size:5px;fill:#f07070">modify R213 from 10E to 10Ω 3/13</text>
<text x="-1066" y="115">VCC3_3</text>
<text x="-1088" y="129" class="n">R206</text><text x="-1086" y="141" class="n">4K7</text>
<text x="-1101" y="146" class="n">NC</text><text x="-1138" y="146" class="n">R210</text>
<text x="-1103" y="161" class="n">4K7</text><text x="-1138" y="161" class="n">R211</text>
<text x="-1069" y="190">G_ZR670</text><text x="-1066" y="183" class="r">12</text>
<text x="-1116" y="180" class="r">IRR</text><text x="-1145" y="176" class="r">10</text><text x="-1192" y="176" class="n">R213</text>
<text x="-1201" y="110" class="r">TRSTN</text><text x="-1186" y="138" class="r">EJTCK</text>

<!-- U201C pin names -->
<g>
<text class="t" x="-1218" y="110.5">E16</text><text class="t" x="-1218" y="116.5">E14</text><text class="t" x="-1218" y="123.5">E18</text><text class="t" x="-1218" y="130.5">E15</text><text class="t" x="-1218" y="138.5">E17</text><text class="t" x="-1218" y="155.5">E13</text><text class="t" x="-1218" y="161.5">D13</text><text class="t" x="-1218" y="176.5">R22</text>
<text class="t" x="-1218" y="273.5">L22</text><text class="t" x="-1218" y="281.5">M22</text><text class="t" x="-1218" y="340.5">P22</text><text class="t" x="-1218" y="348.5">N22</text>
<text class="t" x="-1218" y="369.5">D5</text><text class="t" x="-1218" y="376.5">E5</text><text class="t" x="-1218" y="384.5">D3</text><text class="t" x="-1218" y="392.5">D4</text>
<text class="t" x="-1218" y="421.5">AE12</text><text class="t" x="-1218" y="428.5">AE13</text><text class="t" x="-1218" y="434.5">AF13</text><text class="t" x="-1218" y="442.5">AF12</text><text class="t" x="-1218" y="450.5">AF14</text><text class="t" x="-1218" y="456.5">AE14</text><text class="t" x="-1218" y="467.5">AA14</text>
<text class="t" x="-1218" y="495.5">Y24</text><text class="t" x="-1218" y="503.5">W25</text><text class="t" x="-1218" y="510.5">Y25</text><text class="t" x="-1218" y="519.5">W24</text><text class="t" x="-1218" y="526.5">W26</text><text class="t" x="-1218" y="533.5">Y26</text>
<text class="t" x="-1218" y="548.5">AA24</text><text class="t" x="-1218" y="556.5">AB24</text>
<text class="t" x="-1218" y="585.5">V24</text><text class="t" x="-1218" y="607.5">U26</text><text class="t" x="-1218" y="630.5">U25</text>
</g>
<g class="e">
<text class="i" x="-1227" y="114">TRST</text><text class="i" x="-1227" y="120">TDI</text><text class="i" x="-1227" y="127">TDO</text><text class="i" x="-1227" y="134">TMS</text><text class="i" x="-1227" y="142">TCK</text><text class="i" x="-1227" y="159">TAPSEL</text><text class="i" x="-1227" y="165">TAPSEL_CAS</text><text class="i" x="-1227" y="180">IRR</text>
<text class="i" x="-1227" y="277">UART0_TX</text><text class="i" x="-1227" y="285">UART0_RX</text><text class="i" x="-1227" y="344">UART1_TX</text><text class="i" x="-1227" y="352">UART1_RX</text>
<text class="i" x="-1227" y="373">USB0_DN</text><text class="i" x="-1227" y="380">USB0_DP</text><text class="i" x="-1227" y="388">USB_REXT</text><text class="i" x="-1227" y="396">USB_ATEST</text>
<text class="i" x="-1227" y="425">I2C0_C</text><text class="i" x="-1227" y="432">I2C0_D</text><text class="i" x="-1227" y="438">I2C1_C</text><text class="i" x="-1227" y="446">I2C1_D</text><text class="i" x="-1227" y="454">I2C2_C/GADR6</text><text class="i" x="-1227" y="460">I2C2_D/GADR7</text><text class="i" x="-1227" y="471">I2C_MORPH_ENA</text>
<text class="i" x="-1227" y="499">SPI_DO</text><text class="i" x="-1227" y="507">SPI_DI</text><text class="i" x="-1227" y="514">SPI_CLK</text><text class="i" x="-1227" y="523">SPI_SEL0</text><text class="i" x="-1227" y="530">SPI_SEL1</text><text class="i" x="-1227" y="537">SPI_HOLD</text>
<text class="i" x="-1227" y="552">SPI_SEL2</text><text class="i" x="-1227" y="560">SPI_SEL3</text>
<text class="i" x="-1227" y="589">RESET_n</text><text class="i" x="-1227" y="611">CLKIN</text><text class="i" x="-1227" y="634">CLKOUT</text>
</g>
<text x="-1366" y="68" style="font-size:12px;font-weight:bold;fill:#1a1a9a">U201C</text>
<text x="-1306" y="97" style="font-size:8px;fill:#0000ff">SIO I/F</text>
<text x="-1366" y="660" style="font-size:4.5px">ZR38670_A_6</text>

<!-- clock -->
<text x="-1074" y="648" class="n">R280</text><text x="-1066" y="662" class="n">0</text>
<text x="-1170" y="622" class="n">R232</text><text x="-1167" y="640" class="n">1M</text>
<text x="-1169" y="674" class="n">Y201</text><text x="-1192" y="699" class="n">25MHz/20pF/S2P</text>
<text x="-1123" y="711" class="n">C204</text><text x="-1121" y="720" class="n">33pF</text>
<text x="-1193" y="711" class="n">C201</text><text x="-1190" y="720" class="n">27pF</text>
<text x="-1212" y="653" class="n">R233</text><text x="-1208" y="663" class="n">100</text>
<text x="-1144" y="747">G_ZR670</text><text x="-1204" y="747">G_ZR670</text>
<text x="-1285" y="691" style="font-size:7px">Crystal Y1</text>
<text x="-1285" y="700" style="font-size:7px">15ppm 20C°</text>
<text x="-1285" y="709" style="font-size:7px">30ppm 0-70C°</text>
</g>
</svg>
</body></html>
